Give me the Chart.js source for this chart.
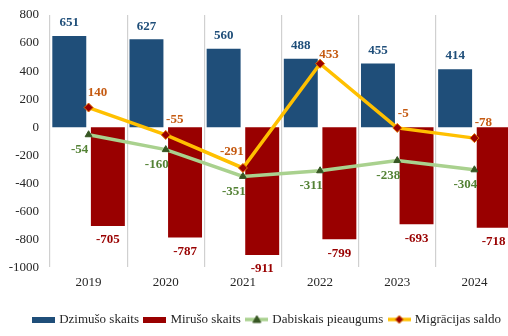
<!DOCTYPE html>
<html>
<head>
<meta charset="utf-8">
<script src="https://cdn.jsdelivr.net/npm/chart.js@4/dist/chart.umd.min.js"></script>
<style>
  html, body { margin: 0; padding: 0; background: #fff; overflow: hidden; }
  #wrap { width: 530px; height: 336px; }
</style>
</head>
<body>
<div id="wrap"><canvas id="popChart" width="530" height="336"></canvas></div>
<script>
// ----- data -----
const years = ['2019', '2020', '2021', '2022', '2023', '2024'];
const births = [651, 627, 560, 488, 455, 414];
const deaths = [-705, -787, -911, -799, -693, -718];
const naturalGrowth = [-54, -160, -351, -311, -238, -304];
const migration = [140, -55, -291, 453, -5, -78];
const yTicks = [800, 600, 400, 200, 0, -200, -400, -600, -800, -1000];

const FONT = '"Liberation Serif", "Times New Roman", serif';
const TEXT = '#262626';

// small legend icons (bar swatch / line with marker)
function barIcon(color) {
    const c = document.createElement('canvas');
    c.width = 23; c.height = 6;
    const g = c.getContext('2d');
    g.fillStyle = color;
    g.fillRect(0, 0, 23, 6);
    return c;
}

function lineIcon(lineColor, markFill, markStroke, shape) {
    const c = document.createElement('canvas');
    c.width = 23; c.height = 10;
    const g = c.getContext('2d');
    g.strokeStyle = lineColor;
    g.lineWidth = 3.5;
    g.beginPath();
    g.moveTo(0, 5); g.lineTo(23, 5);
    g.stroke();
    g.fillStyle = markFill;
    g.strokeStyle = markStroke;
    g.lineWidth = 1;
    g.beginPath();
    if (shape === 'triangle') {
        g.moveTo(11.5, 1); g.lineTo(15.5, 8); g.lineTo(7.5, 8);
    } else {
        g.moveTo(11.5, 1); g.lineTo(15.5, 5); g.lineTo(11.5, 9); g.lineTo(7.5, 5);
    }
    g.closePath();
    g.fill();
    g.stroke();
    return c;
}

// value labels drawn next to every bar / point
const valueLabels = {
    id: 'valueLabels',
    afterDatasetsDraw(chart, args, opts) {
        const ctx = chart.ctx;
        ctx.save();
        ctx.font = 'bold 13px ' + FONT;
        ctx.textAlign = 'center';
        ctx.textBaseline = 'middle';
        chart.data.datasets.forEach((ds, di) => {
            const st = opts.styles[di];
            const meta = chart.getDatasetMeta(di);
            meta.data.forEach((el, i) => {
                const v = ds.data[i];
                let x, y;
                if (ds.type === 'bar') {
                    x = el.x;
                    y = v >= 0 ? el.y - 13 : el.y + 14;
                } else {
                    const off = (st.shift && st.shift[i]) || [st.dx, st.dy];
                    x = el.x + off[0];
                    y = el.y + off[1];
                }
                ctx.fillStyle = st.color;
                ctx.fillText(String(v), x, y);
            });
        });
        ctx.restore();
    }
};

// nudge the legend row sideways once the layout is done
const legendShift = {
    id: 'legendShift',
    afterLayout(chart, args, opts) {
        const lg = chart.legend;
        if (!lg) return;
        lg.left += opts.dx;
        lg.right += opts.dx;
    }
};

new Chart(document.getElementById('popChart'), {
    data: {
        labels: years,
        datasets: [
            {
                type: 'bar',
                label: 'Dzimušo skaits',
                data: births,
                backgroundColor: '#1F4E79',
                pointStyle: barIcon('#1F4E79'),
                order: 2
            },
            {
                type: 'bar',
                label: 'Mirušo skaits',
                data: deaths,
                backgroundColor: '#990000',
                pointStyle: barIcon('#990000'),
                order: 2
            },
            {
                type: 'line',
                label: 'Dabiskais pieaugums',
                data: naturalGrowth,
                borderColor: '#A9D18E',
                borderWidth: 3.5,
                pointStyle: 'triangle',
                pointRadius: 4,
                pointBackgroundColor: '#375623',
                pointBorderColor: '#375623',
                pointBorderWidth: 1,
                tension: 0,
                order: 1
            },
            {
                type: 'line',
                label: 'Migrācijas saldo',
                data: migration,
                borderColor: '#FFC000',
                borderWidth: 3.5,
                pointStyle: 'rectRot',
                pointRadius: 4.5,
                pointBackgroundColor: '#9A0000',
                pointBorderColor: '#E07000',
                pointBorderWidth: 1,
                tension: 0,
                order: 0
            }
        ]
    },
    options: {
        responsive: false,
        animation: false,
        layout: { padding: { left: 0, right: 17, top: 15, bottom: 0 } },
        scales: {
            x: {
                grid: { display: true, offset: true, color: '#D0D0D0', lineWidth: 1.2, drawTicks: false },
                border: { display: false },
                afterFit: s => { s.height += 9; },
                ticks: { color: TEXT, font: { family: FONT, size: 13 }, padding: 7 }
            },
            y: {
                min: -1000,
                max: 800,
                afterBuildTicks: s => { s.ticks = yTicks.map(v => ({ value: v })); },
                afterFit: s => { s.width = 50; },
                grid: { display: false },
                border: { display: false },
                ticks: {
                    color: TEXT,
                    font: { family: FONT, size: 13 },
                    padding: 3,
                    callback: v => String(v)
                }
            }
        },
        datasets: {
            bar: { categoryPercentage: 1, barPercentage: 0.88 }
        },
        plugins: {
            legend: {
                position: 'bottom',
                align: 'end',
                labels: {
                    usePointStyle: true,
                    pointStyleWidth: 18,
                    padding: 7,
                    color: TEXT,
                    font: { family: FONT, size: 13 },
                    generateLabels(chart) {
                        return chart.data.datasets.map((ds, i) => ({
                            text: ds.label,
                            pointStyle: i < 2 ? ds.pointStyle
                                : i === 2 ? lineIcon('#A9D18E', '#375623', '#375623', 'triangle')
                                : lineIcon('#FFC000', '#9A0000', '#E07000', 'diamond'),
                            fontColor: TEXT,
                            lineWidth: 0,
                            hidden: false,
                            datasetIndex: i
                        }));
                    }
                }
            },
            legendShift: { dx: -5 },
            tooltip: { enabled: false },
            valueLabels: {
                styles: [
                    { color: '#1F4E79' },
                    { color: '#990000' },
                    { color: '#548235', dx: -9, dy: 15 },
                    { color: '#C55A11', dx: 9, dy: -15,
                      shift: { 2: [-11, -16], 3: [9, -9], 4: [6, -14] } }
                ]
            }
        }
    },
    plugins: [valueLabels, legendShift]
});
</script>
</body>
</html>
